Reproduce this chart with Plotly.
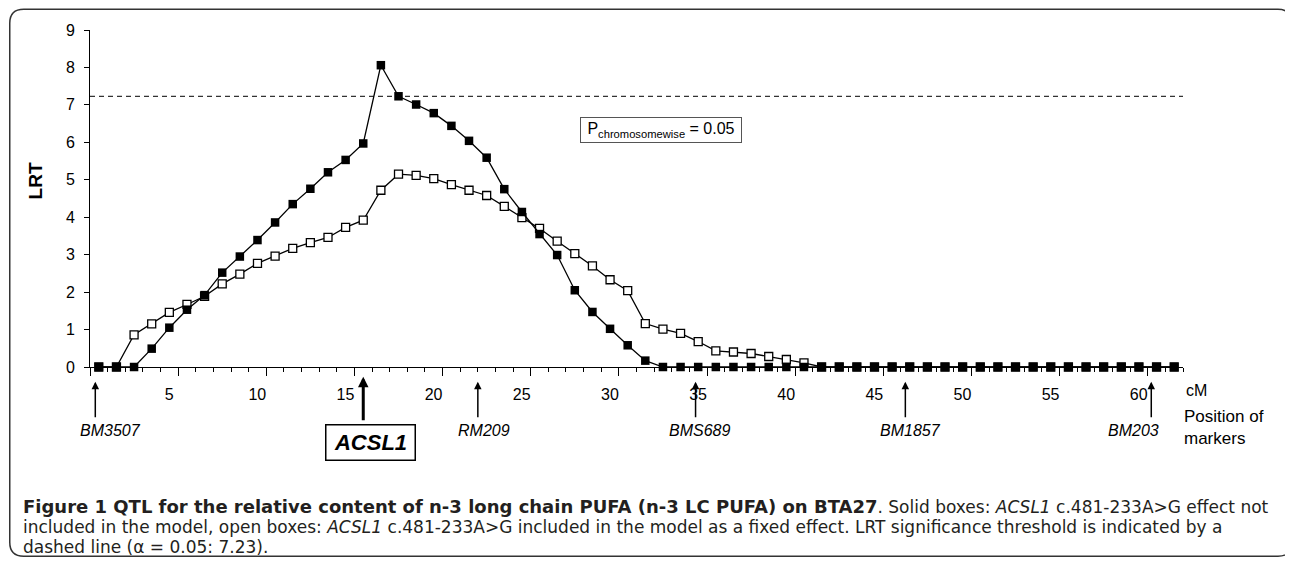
import plotly.graph_objects as go

# ---------------- data ----------------
cm_categories = list(range(1, 63))  # 1 cM categories along BTA27
lrt_without_snp = [0, 0, 0, 0.49, 1.05, 1.53, 1.92, 2.52, 2.95, 3.39,
                   3.86, 4.35, 4.76, 5.20, 5.53, 5.97, 8.06, 7.23, 7.01, 6.78,
                   6.44, 6.04, 5.59, 4.75, 4.14, 3.55, 2.99, 2.05, 1.47, 1.02,
                   0.58, 0.17, 0, 0, 0, 0, 0, 0, 0, 0,
                   0, 0, 0, 0, 0, 0, 0, 0, 0, 0,
                   0, 0, 0, 0, 0, 0, 0, 0, 0, 0,
                   0, 0]
lrt_with_snp = [0, 0, 0.86, 1.15, 1.46, 1.67, 1.89, 2.22, 2.48, 2.77,
                2.96, 3.17, 3.32, 3.46, 3.73, 3.92, 4.72, 5.15, 5.12, 5.03,
                4.87, 4.72, 4.58, 4.29, 3.99, 3.70, 3.36, 3.03, 2.70, 2.33,
                2.04, 1.16, 1.01, 0.90, 0.68, 0.43, 0.40, 0.36, 0.28, 0.20,
                0.11, 0, 0, 0, 0, 0, 0, 0, 0, 0,
                0, 0, 0, 0, 0, 0, 0, 0, 0, 0,
                0, 0]
threshold = 7.23
x_tick_labels = ["5", "10", "15", "20", "25", "30", "35", "40", "45", "50", "55", "60"]
marker_names = ["BM3507", "RM209", "BMS689", "BM1857", "BM203"]
marker_pos = [0.3, 22.0, 34.35, 46.25, 60.2]
gene_name = "ACSL1"
gene_pos = 15.5

# ---------------- geometry helpers ----------------
# the page body has an 8px margin, so the figure is drawn 8px right/down
OFF = 8
W, H = 1293 - OFF, 562 - OFF
PLOT_L, PLOT_R, PLOT_T, PLOT_B = 90.2, 1182.6, 29.5, 367.3   # reference pixel box
L = PLOT_L - OFF
T = PLOT_T - OFF
R = W - (PLOT_R - OFF)
B = H - (PLOT_B - OFF)
PW, PH = W - L - R, H - T - B


def pxx(xp):
    return (xp - PLOT_L) / PW


def pxy(yp):
    return (PLOT_B - yp) / PH


AX_FONT = "Arial, Liberation Sans, sans-serif"
CAP_FONT = "DejaVu Sans, Verdana, sans-serif"

xs = [c - 0.5 for c in cm_categories]

fig = go.Figure()
fig.add_trace(go.Scatter(
    x=xs, y=lrt_with_snp, mode="lines+markers", cliponaxis=False,
    line=dict(color="black", width=1.3),
    marker=dict(symbol="square", size=8, color="white", line=dict(color="black", width=1.3)),
    showlegend=False, hoverinfo="skip"))
fig.add_trace(go.Scatter(
    x=xs, y=lrt_without_snp, mode="lines+markers", cliponaxis=False,
    line=dict(color="black", width=1.3),
    marker=dict(symbol="square", size=8.5, color="black", line=dict(width=0)),
    showlegend=False, hoverinfo="skip"))

# threshold line
fig.add_shape(type="line", xref="x", yref="y", x0=0, x1=62, y0=threshold, y1=threshold,
              line=dict(color="#333", width=1.3, dash="5px,4px"), layer="below")

# rounded frame
x0, x1, y0, y1, r = 10, 1291.5, 8.8, 557, 14
pts = [
    ("M", (x0 + r, y0)), ("L", (x1 - r, y0)), ("Q", (x1, y0), (x1, y0 + r)),
    ("L", (x1, y1 - r)), ("Q", (x1, y1), (x1 - r, y1)),
    ("L", (x0 + r, y1)), ("Q", (x0, y1), (x0, y1 - r)),
    ("L", (x0, y0 + r)), ("Q", (x0, y0), (x0 + r, y0)),
]
path = ""
for seg in pts:
    cmd = seg[0]
    coords = " ".join(f"{pxx(p[0]):.5f},{pxy(p[1]):.5f}" for p in seg[1:])
    path += f"{cmd} {coords} "
path += "Z"
fig.add_shape(type="path", xref="paper", yref="paper", path=path,
              line=dict(color="#333", width=1.5), fillcolor="rgba(0,0,0,0)")

ann = []
# marker arrows and names
for name, pos in zip(marker_names, marker_pos):
    ann.append(dict(xref="x", yref="paper", x=pos, y=pxy(382), text="", showarrow=True,
                    ax=0, ay=37, arrowhead=2, arrowsize=1, arrowwidth=1.5, arrowcolor="black",
                    standoff=0, startstandoff=0))
label_centers = [110.7, 484, 699, 910, 1133]
for name, cx in zip(marker_names, label_centers):
    ann.append(dict(xref="paper", yref="paper", x=pxx(cx), y=pxy(431), text=f"<i>{name}</i>",
                    showarrow=False, xanchor="center", yanchor="middle",
                    font=dict(family=AX_FONT, size=16, color="black")))
# gene arrow + box
ann.append(dict(xref="x", yref="paper", x=gene_pos, y=pxy(377), text="", showarrow=True,
                ax=0, ay=45, arrowhead=2, arrowsize=0.7, arrowwidth=3, arrowcolor="black",
                standoff=0, startstandoff=0))
ann.append(dict(xref="paper", yref="paper", x=pxx(371), y=pxy(442.7), text=f"<b><i>{gene_name}</i></b>",
                showarrow=False, xanchor="center", yanchor="middle", width=86, height=32,
                bordercolor="black", borderwidth=1.5, borderpad=1, bgcolor="white",
                font=dict(family=AX_FONT, size=22, color="black")))
# cM and Position of markers
ann.append(dict(xref="paper", yref="paper", x=pxx(1184), y=pxy(391), text="cM", showarrow=False,
                xanchor="left", yanchor="middle", font=dict(family=AX_FONT, size=16, color="black")))
ann.append(dict(xref="paper", yref="paper", x=pxx(1182), y=pxy(428), text="Position of<br>markers",
                showarrow=False, xanchor="left", yanchor="middle", align="left",
                font=dict(family=AX_FONT, size=17, color="black")))
# y title
ann.append(dict(xref="paper", yref="paper", x=pxx(35.5), y=pxy(181), text="<b>LRT</b>", textangle=-90,
                showarrow=False, xanchor="center", yanchor="middle",
                font=dict(family=AX_FONT, size=19, color="black")))
# legend-like box
ann.append(dict(xref="paper", yref="paper", x=pxx(661), y=pxy(129.5),
                text="P<sub>chromosomewise</sub> = 0.05", showarrow=False,
                xanchor="center", yanchor="middle", width=158, height=22,
                bordercolor="#555", borderwidth=1, borderpad=1, bgcolor="white",
                font=dict(family=AX_FONT, size=16, color="black")))
# caption
cap_lines = [
    "<b><span style=\"font-size:18px\">Figure 1 QTL for the relative content of n-3 long chain PUFA "
    "(n-3 LC PUFA) on BTA27</span></b>. "
    "Solid boxes: <i>ACSL1</i> c.481-233A&gt;G effect not",
    "included in the model, open boxes: <i>ACSL1</i> c.481-233A&gt;G included in the model as a fixed "
    "effect. LRT significance threshold is indicated by a",
    "dashed line (α = 0.05: 7.23).",
]
for line, yc in zip(cap_lines, [507.5, 527.5, 547.5]):
    ann.append(dict(xref="paper", yref="paper", x=pxx(21), y=pxy(yc), text=line, showarrow=False,
                    xanchor="left", yanchor="middle", align="left",
                    font=dict(family=CAP_FONT, size=17, color="#231f20")))

fig.update_layout(
    width=W, height=H, autosize=False,
    margin=dict(l=L, r=R, t=T, b=B, pad=0),
    paper_bgcolor="white", plot_bgcolor="white",
    showlegend=False, annotations=ann,
    xaxis=dict(range=[0, 62], showgrid=False, zeroline=False, showline=True, linecolor="black",
               linewidth=1, layer="below traces", automargin=False,
               tickmode="array", tickvals=[0] + [int(t) for t in x_tick_labels],
               ticktext=[""] + x_tick_labels, ticks="outside", ticklen=8, tickwidth=1,
               tickcolor="black", ticklabelshift=-9, ticklabelstandoff=5,
               tickfont=dict(family=AX_FONT, size=16, color="black"),
               minor=dict(tickmode="linear", tick0=0, dtick=1, ticks="outside", ticklen=4,
                          tickwidth=1, tickcolor="black", showgrid=False)),
    yaxis=dict(range=[0, 9], showgrid=False, zeroline=False, showline=True, linecolor="black",
               linewidth=1, layer="below traces", automargin=False,
               tickmode="linear", tick0=0, dtick=1, ticks="outside", ticklen=5, tickwidth=1,
               tickcolor="black", ticklabelstandoff=6,
               tickfont=dict(family=AX_FONT, size=16, color="black")),
)

fig.write_html("out.html", config={"displayModeBar": False})
